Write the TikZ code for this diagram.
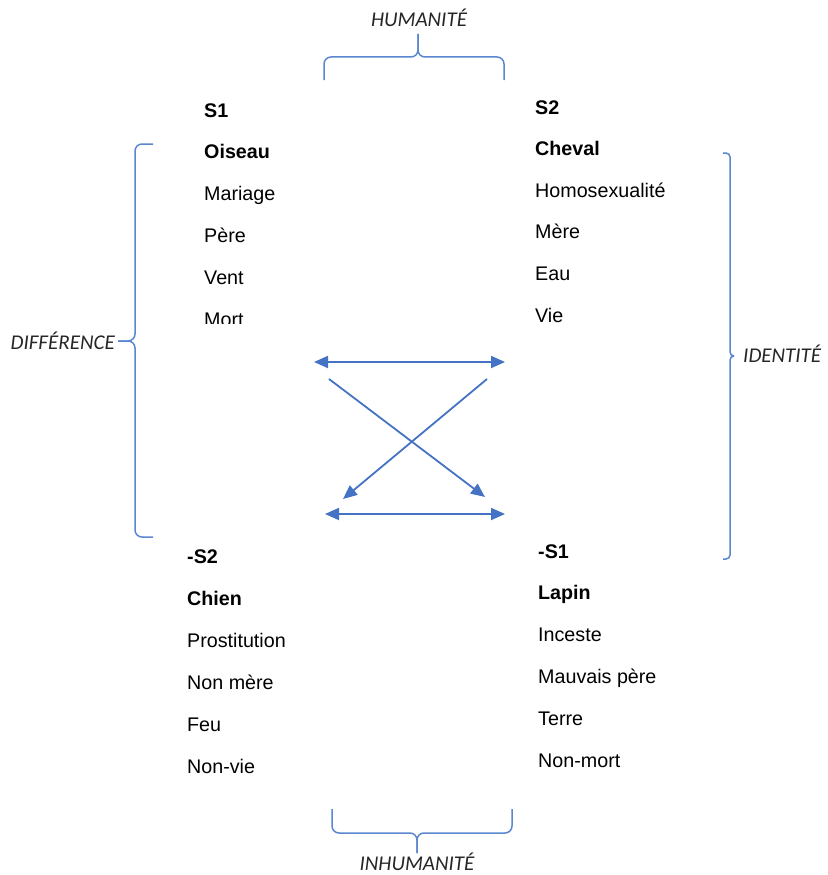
\documentclass[tikz,border=0pt]{standalone}
\usepackage{fontspec}
\setmainfont{Liberation Sans}
\newfontfamily\labelfont{Carlito}
\usetikzlibrary{arrows.meta}
\definecolor{arrowblue}{HTML}{4472C4}
\definecolor{braceblue}{HTML}{5B86D0}

\tikzset{
	item/.style={anchor=base west, inner sep=0pt, font=\fontsize{19.7}{22}\selectfont},
	head/.style={item, font=\fontsize{19.7}{22}\selectfont\bfseries},
	axis/.style={inner sep=0pt, font=\fontsize{21}{24}\selectfont\labelfont\itshape, text=black!85},
	brace/.style={draw=braceblue, line width=1.5pt, rounded corners=7pt},
	relation/.style={draw=arrowblue, line width=1.8pt, -{Triangle[length=14pt,width=12pt]}},
	mutual/.style={relation, {Triangle[length=14pt,width=12pt]}-{Triangle[length=14pt,width=12pt]}}
}

\begin{document}
\begin{tikzpicture}[x=1pt, y=1pt]
	\useasboundingbox (0,0) rectangle (827,-875);
	% upper left column
	\begin{scope}
		\clip (150,-80) rectangle (420,-323);
		\node[head] (s1) at (204,-117) {S1};
		\node[head] (s1a) at (204,-158.8) {Oiseau};
		\foreach \txt [count=\i] in {Mariage,Père,Vent,Mort}
			\node[item] (s1\i) at (204,{-158.8-41.8*\i}) {\txt};
	\end{scope}
	% upper right column
	\node[head] (s2) at (535,-114) {S2};
	\node[head] (s2a) at (535,-155.6) {Cheval};
	\foreach \txt [count=\i] in {Homosexualité,Mère,Eau,Vie}
		\node[item] (s2\i) at (535,{-155.6-41.6*\i}) {\txt};
	% lower left column
	\node[head] (ns2) at (187,-563) {-S2};
	\node[head] (ns2a) at (187,-605) {Chien};
	\foreach \txt [count=\i] in {Prostitution,Non mère,Feu,Non-vie}
		\node[item] (ns2\i) at (187,{-605-42*\i}) {\txt};
	% lower right column
	\node[head] (ns1) at (538,-558) {-S1};
	\node[head] (ns1a) at (538,-599.8) {Lapin};
	\foreach \txt [count=\i] in {Inceste,Mauvais père,Terre,Non-mort}
		\node[item] (ns1\i) at (538,{-599.8-41.8*\i}) {\txt};

	% braces and their labels
	\node[axis, anchor=base] (hum) at (419,-27) {HUMANITÉ};
	\draw[brace] (324,-80) |- (418,-57) -- (418,-34);
	\draw[brace] (504,-80) |- (418,-57) -- (418,-34);
	\node[axis, anchor=base east] (diff) at (115,-349) {DIFFÉRENCE};
	\draw[brace] (153,-144) -| (135,-341) -- (118,-341);
	\draw[brace] (153,-537) -| (135,-341) -- (118,-341);
	\node[axis, anchor=base west] (ident) at (743,-362) {IDENTITÉ};
	\draw[brace, rounded corners=4pt] (723,-153) -| (730,-356) -- (734,-356);
	\draw[brace, rounded corners=4pt] (723,-559) -| (730,-356) -- (734,-356);
	\node[axis, anchor=base] (inhum) at (417,-870) {INHUMANITÉ};
	\draw[brace] (332,-809) |- (417,-833) -- (417,-853);
	\draw[brace] (512,-809) |- (417,-833) -- (417,-853);

	% square of relations
	\coordinate (tl) at (314,-362);
	\coordinate (tr) at (505,-362);
	\coordinate (bl) at (325,-514);
	\coordinate (br) at (505,-514);
	\coordinate (xa) at (329,-379);
	\coordinate (xb) at (485,-497);
	\coordinate (ya) at (487,-379);
	\coordinate (yb) at (343,-499);
	\draw[mutual] (tl) -- (tr);
	\draw[mutual] (bl) -- (br);
	\draw[relation] (xa) -- (xb);
	\draw[relation] (ya) -- (yb);
\end{tikzpicture}
\end{document}
